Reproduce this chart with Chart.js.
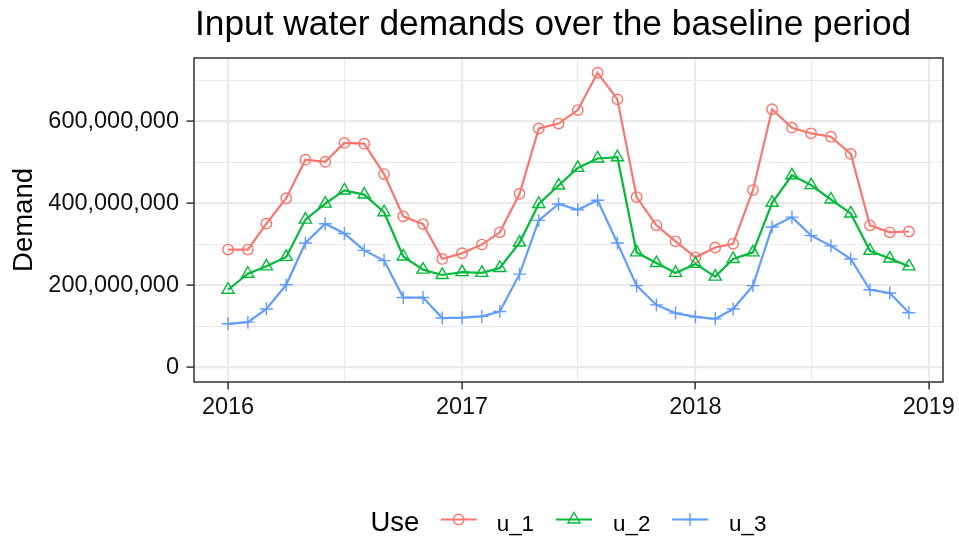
<!DOCTYPE html>
<html><head><meta charset="utf-8">
<script src="https://cdn.jsdelivr.net/npm/chart.js@4.4.0/dist/chart.umd.min.js"></script>
<style>html,body{margin:0;padding:0;background:#fff;}#wrap{width:959px;height:537px;position:relative;}</style>
</head><body><div id="wrap"><canvas id="c" width="959" height="537"></canvas></div>
<script>
// ---------- data ----------
const months = ['2016-01','2016-02','2016-03','2016-04','2016-05','2016-06','2016-07','2016-08','2016-09','2016-10','2016-11','2016-12',
                '2017-01','2017-02','2017-03','2017-04','2017-05','2017-06','2017-07','2017-08','2017-09','2017-10','2017-11','2017-12',
                '2018-01','2018-02','2018-03','2018-04','2018-05','2018-06','2018-07','2018-08','2018-09','2018-10','2018-11','2018-12'];
const u_1 = [287000000,287000000,350000000,412000000,506000000,501000000,547000000,545000000,471000000,368000000,349000000,264000000,
             278000000,299000000,329000000,423000000,582000000,594000000,627000000,718000000,653000000,415000000,346000000,307000000,
             268000000,292000000,301000000,432000000,629000000,584000000,570000000,562000000,520000000,346000000,329000000,331000000];
const u_2 = [189000000,228000000,246000000,269000000,360000000,399000000,431000000,421000000,378000000,270000000,238000000,225000000,
             232000000,230000000,242000000,304000000,398000000,443000000,486000000,509000000,512000000,280000000,254000000,230000000,
             252000000,221000000,264000000,280000000,401000000,468000000,444000000,409000000,375000000,284000000,265000000,246000000];
const u_3 = [106000000,110000000,142000000,201000000,303000000,350000000,326000000,285000000,260000000,170000000,170000000,120000000,
             121000000,124000000,136000000,227000000,358000000,398000000,384000000,407000000,303000000,199000000,152000000,132000000,
             123000000,118000000,142000000,199000000,342000000,366000000,321000000,296000000,264000000,189000000,181000000,133000000];
const seriesNames = ['u_1','u_2','u_3'];
const seriesColors = ['#F8766D','#00BA38','#619CFF'];
const seriesShapes = ['circle','triangle','cross'];
const yMajorTicks = [0,200000000,400000000,600000000];
const yMinorTicks = [100000000,300000000,500000000,700000000];
const xYearTicks = ['2016','2017','2018','2019'];
const xMinorTicks = ['2016-07','2017-07','2018-07'];
const titleText = 'Input water demands over the baseline period';
const yTitle = 'Demand';
const legendTitle = 'Use';

// ---------- helpers ----------
const FONT = "'Liberation Sans', Arial, Helvetica, sans-serif";
const dayOf = s => { const p = s.split('-').map(Number); return (Date.UTC(p[0], (p[1]||1)-1, 1) - Date.UTC(2016,0,1)) / 864e5; };
const xs = months.map(dayOf);
const toPts = vals => vals.map((v,i) => ({x: xs[i], y: v}));
const xMajorPos = xYearTicks.map(dayOf);
const xMinorPos = xMinorTicks.map(dayOf);
const xTickPos = [...xMajorPos, ...xMinorPos].sort((a,b)=>a-b);
const xLo = Math.min(...xs), xHi = Math.max(...xs), xPad = (xHi - xLo) * 0.05;
const allVals = [...u_1, ...u_2, ...u_3];
const yLo = 0, yHi = Math.max(...allVals), yPad = (yHi - yLo) * 0.05;
const yTickPos = [...yMajorTicks, ...yMinorTicks].sort((a,b)=>a-b);
const isXMajor = v => xMajorPos.some(p => Math.abs(p - v) < 0.5);
const isYMajor = v => yMajorTicks.includes(v);

const seriesData = [u_1, u_2, u_3];
const datasets = seriesNames.map((n, i) => ({
  label: n,
  data: toPts(seriesData[i]),
  borderColor: seriesColors[i],
  backgroundColor: seriesColors[i],
  borderWidth: 2.2,
  tension: 0,
  pointStyle: seriesShapes[i],
  pointRadius: seriesShapes[i] === 'circle' ? 5.2 : (seriesShapes[i] === 'triangle' ? 7 : 6.5),
  pointBorderWidth: 1.4,
  pointBorderColor: seriesColors[i],
  pointBackgroundColor: 'rgba(0,0,0,0)',
  order: seriesNames.length - i
}));

function drawMarker(ctx, shape, x, y, r, color) {
  ctx.save();
  ctx.strokeStyle = color; ctx.lineWidth = 1.4; ctx.fillStyle = 'rgba(0,0,0,0)';
  if (Chart.helpers && Chart.helpers.drawPoint) {
    Chart.helpers.drawPoint(ctx, {pointStyle: shape, radius: r, rotation: 0, borderWidth: 1.4}, x, y);
  } else {
    ctx.beginPath();
    if (shape === 'circle') ctx.arc(x, y, r, 0, Math.PI*2);
    ctx.stroke();
  }
  ctx.restore();
}

const decor = {
  id: 'decor',
  afterDraw(chart) {
    const ctx = chart.ctx, a = chart.chartArea;
    ctx.save();
    // panel border
    ctx.strokeStyle = '#333333'; ctx.lineWidth = 1.5;
    ctx.strokeRect(a.left, a.top, a.right - a.left, a.bottom - a.top);
    // title
    ctx.fillStyle = '#000'; ctx.font = '35.3px ' + FONT; ctx.textAlign = 'left'; ctx.textBaseline = 'alphabetic';
    ctx.fillText(titleText, a.left + 1, 35);
    // legend
    const ly = 519.5, base = 530.5;
    ctx.font = '27.5px ' + FONT;
    ctx.fillText(legendTitle, 370.5, base);
    const keyCenters = [458.7, 574, 690];
    const labelX = [496.7, 613, 729];
    ctx.font = '22.4px ' + FONT;
    chart.data.datasets.forEach((ds, i) => {
      ctx.strokeStyle = ds.borderColor; ctx.lineWidth = 2.2;
      ctx.beginPath(); ctx.moveTo(keyCenters[i] - 18, ly); ctx.lineTo(keyCenters[i] + 18, ly); ctx.stroke();
      drawMarker(ctx, ds.pointStyle, keyCenters[i], ly, ds.pointRadius, ds.borderColor);
      ctx.fillStyle = '#000';
      ctx.fillText(ds.label, labelX[i], base);
    });
    ctx.restore();
  }
};

new Chart(document.getElementById('c'), {
  type: 'line',
  data: { datasets },
  plugins: [decor],
  options: {
    responsive: false,
    animation: false,
    layout: { padding: { top: 58, right: 16, bottom: 105, left: 0 } },
    plugins: { legend: { display: false }, title: { display: false }, tooltip: { enabled: false } },
    scales: {
      x: {
        type: 'linear', min: xLo - xPad, max: xHi + xPad,
        afterBuildTicks: s => { s.ticks = xTickPos.map(v => ({ value: v })); },
        afterFit: s => { s.height = 50; s.paddingLeft = 0; s.paddingRight = 0; },
        ticks: {
          autoSkip: false, maxRotation: 0, minRotation: 0, padding: 4,
          color: '#111', font: { family: FONT, size: 23.5 },
          callback: v => { const k = xMajorPos.findIndex(p => Math.abs(p - v) < 0.5); return k >= 0 ? xYearTicks[k] : ''; }
        },
        grid: {
          color: '#EBEBEB',
          lineWidth: c => (c.tick && isXMajor(c.tick.value)) ? 2.2 : 1.1,
          tickLength: 7.5,
          tickWidth: 1.5,
          tickColor: c => (c.tick && isXMajor(c.tick.value)) ? '#333333' : 'rgba(0,0,0,0)'
        },
        border: { display: false }
      },
      y: {
        type: 'linear', min: yLo - yPad, max: yHi + yPad,
        afterBuildTicks: s => { s.ticks = yTickPos.map(v => ({ value: v })); },
        afterFit: s => { s.width = 194; s.paddingTop = 0; s.paddingBottom = 0; },
        ticks: {
          autoSkip: false, padding: 7.5,
          color: '#111', font: { family: FONT, size: 23.5 },
          callback: v => isYMajor(v) ? v.toLocaleString('en-US') : ''
        },
        grid: {
          color: '#EBEBEB',
          lineWidth: c => (c.tick && isYMajor(c.tick.value)) ? 2.2 : 1.1,
          tickLength: 7.5,
          tickWidth: 1.5,
          tickColor: c => (c.tick && isYMajor(c.tick.value)) ? '#333333' : 'rgba(0,0,0,0)'
        },
        border: { display: false },
        title: { display: true, text: yTitle, color: '#000', font: { family: FONT, size: 27.5 }, padding: { top: 8, bottom: 0 } }
      }
    }
  }
});
</script></body></html>
